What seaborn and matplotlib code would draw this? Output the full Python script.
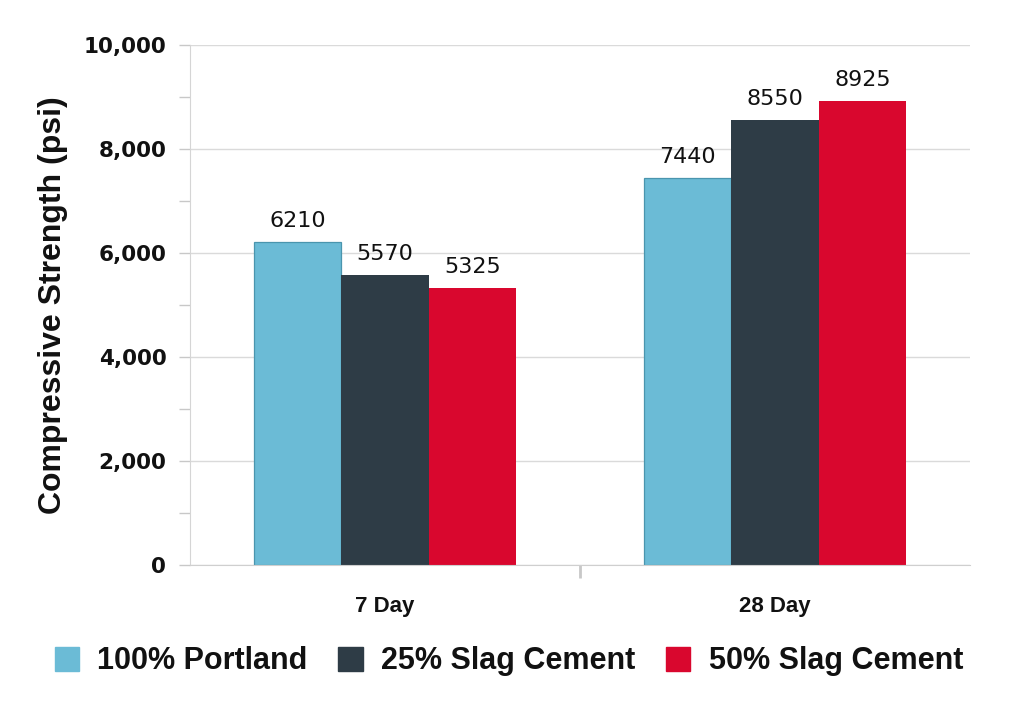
import pandas as pd
import numpy as np
import matplotlib
matplotlib.use("Agg")
import matplotlib.pyplot as plt
import seaborn as sns

# chart data
ages = ['7 Day', '28 Day']
mixes = ['100% Portland', '25% Slag Cement', '50% Slag Cement']
strength_7 = [6210, 5570, 5325]
strength_28 = [7440, 8550, 8925]
colors = ['#6BBBD6', '#2E3C46', '#D9072E']
y_ticks = [0, 2000, 4000, 6000, 8000, 10000]

rows = []
for mix, s7, s28 in zip(mixes, strength_7, strength_28):
    rows.append({'Age': ages[0], 'Mix': mix, 'psi': s7})
    rows.append({'Age': ages[1], 'Mix': mix, 'psi': s28})
df = pd.DataFrame(rows)

sns.set_style('white')
plt.rcParams['font.family'] = ['Liberation Sans', 'DejaVu Sans']

fig = plt.figure(figsize=(10.24, 7.12), dpi=100)
ax = fig.add_axes([0.1855, 0.2065, 0.7617, 0.7303])

sns.barplot(data=df, x='Age', y='psi', hue='Mix', order=ages, hue_order=mixes,
            palette=colors, width=0.674, saturation=1, ax=ax, legend=False,
            edgecolor='none', linewidth=0)

# light blue bars carry a thin darker outline
for bar in ax.containers[0]:
    bar.set_edgecolor('#4A95AE')
    bar.set_linewidth(0.9)

for cont in ax.containers:
    ax.bar_label(cont, labels=[f'{int(v)}' for v in cont.datavalues], padding=8,
                 fontsize=16, family='DejaVu Sans', color='#111111')

ax.set_ylim(0, 10000)
ax.set_xlim(-0.5, 1.5)
ax.set_yticks(y_ticks)
ax.set_yticklabels([f'{v:,}' for v in y_ticks])
ax.set_yticks(np.arange(1000, 10000, 2000), minor=True)
ax.set_xticks([0, 1])
ax.set_xticklabels(ages)
ax.set_xticks([0.5], minor=True)
ax.tick_params(axis='y', which='both', left=True, length=8, color='#C8C8C8', width=1, pad=9)
ax.tick_params(axis='x', which='major', bottom=False, length=0, pad=22)
ax.tick_params(axis='x', which='minor', bottom=True, length=9, color='#C8C8C8', width=2)
for t in ax.get_yticklabels():
    t.set_fontsize(15.5)
    t.set_fontweight('bold')
    t.set_family('DejaVu Sans')
    t.set_color('#111111')
for t in ax.get_xticklabels():
    t.set_fontsize(16)
    t.set_fontweight('bold')
    t.set_color('#111111')
ax.yaxis.grid(True, color='#DADADA', linewidth=1)
ax.set_axisbelow(True)

for s in ['top', 'right']:
    ax.spines[s].set_visible(False)
ax.spines['left'].set_color('#D5D5D5')
ax.spines['bottom'].set_color('#CFCFCF')
ax.set_xlabel('')
ax.set_ylabel('Compressive Strength (psi)', fontsize=23, fontweight='bold', labelpad=11,
              color='#111111')

handles = [plt.Rectangle((0, 0), 1, 1, color=c) for c in colors]
fig.legend(handles, mixes, loc='center', bbox_to_anchor=(0.497, 0.071), ncol=3,
           frameon=False, prop={'weight': 'bold', 'size': 22},
           handlelength=0.8, handleheight=0.8, handletextpad=0.6, columnspacing=1.0,
           labelcolor='#111111')

fig.savefig('out.png', dpi=100)
